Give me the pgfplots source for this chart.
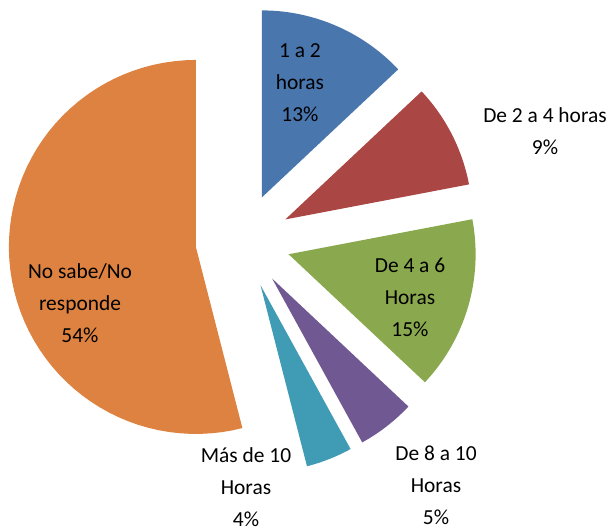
\documentclass[border=0pt]{standalone}
\usepackage{pgfplots}
\pgfplotsset{compat=1.18}
\usepackage{fontspec}
\setmainfont{Carlito}
\definecolor{cBlue}{RGB}{74,118,174}
\definecolor{cRed}{RGB}{170,70,68}
\definecolor{cGreen}{RGB}{138,168,77}
\definecolor{cPurple}{RGB}{112,88,146}
\definecolor{cTeal}{RGB}{64,156,180}
\definecolor{cOrange}{RGB}{221,130,64}
% centre (243,290) in y-up pixel units, radius 187, explosion 47.5
\newcommand{\slice}[3]{% colour, cumulative start %, cumulative end %
  \addplot[fill=#1, draw=none, variable=\t, domain=0:62, samples=63]
  ({243 + 47.5*cos(90-1.8*(#2+#3)) + (or(\t<0.5,\t>61.5) ? 0 : 187)*cos(90-3.6*(#2+(#3-#2)*(\t-1)/60))},
   {290 + 47.5*sin(90-1.8*(#2+#3)) + (or(\t<0.5,\t>61.5) ? 0 : 187)*sin(90-3.6*(#2+(#3-#2)*(\t-1)/60))}) -- cycle;
}
\begin{document}
\begin{tikzpicture}
\begin{axis}[
  width=616bp, height=531bp, scale only axis,
  xmin=0, xmax=616, ymin=0, ymax=531,
  hide axis, clip=false,
]
% values: 13, 9, 15, 5, 4, 54 (%)
\slice{cBlue}{0}{13}
\slice{cRed}{13}{22}
\slice{cGreen}{22}{37}
\slice{cPurple}{37}{42}
\slice{cTeal}{42}{46}
\slice{cOrange}{46}{100}
\tikzset{lbl/.style={font=\fontsize{21.5}{32}\selectfont, align=center, text=black, inner sep=0pt}}
\node[lbl] at (axis cs:300,448) {1 a 2\\horas\\13\%};
\node[lbl] at (axis cs:545,400) {De 2 a 4 horas\\9\%};
\node[lbl] at (axis cs:410,234) {De 4 a 6\\Horas\\15\%};
\node[lbl] at (axis cs:436,46) {De 8 a 10\\Horas\\5\%};
\node[lbl] at (axis cs:246,44) {Más de 10\\Horas\\4\%};
\node[lbl] at (axis cs:80,228) {No sabe/No\\responde\\54\%};
\end{axis}
\pgfresetboundingbox
\useasboundingbox (current axis.south west) rectangle (current axis.north east);
\end{tikzpicture}
\end{document}
